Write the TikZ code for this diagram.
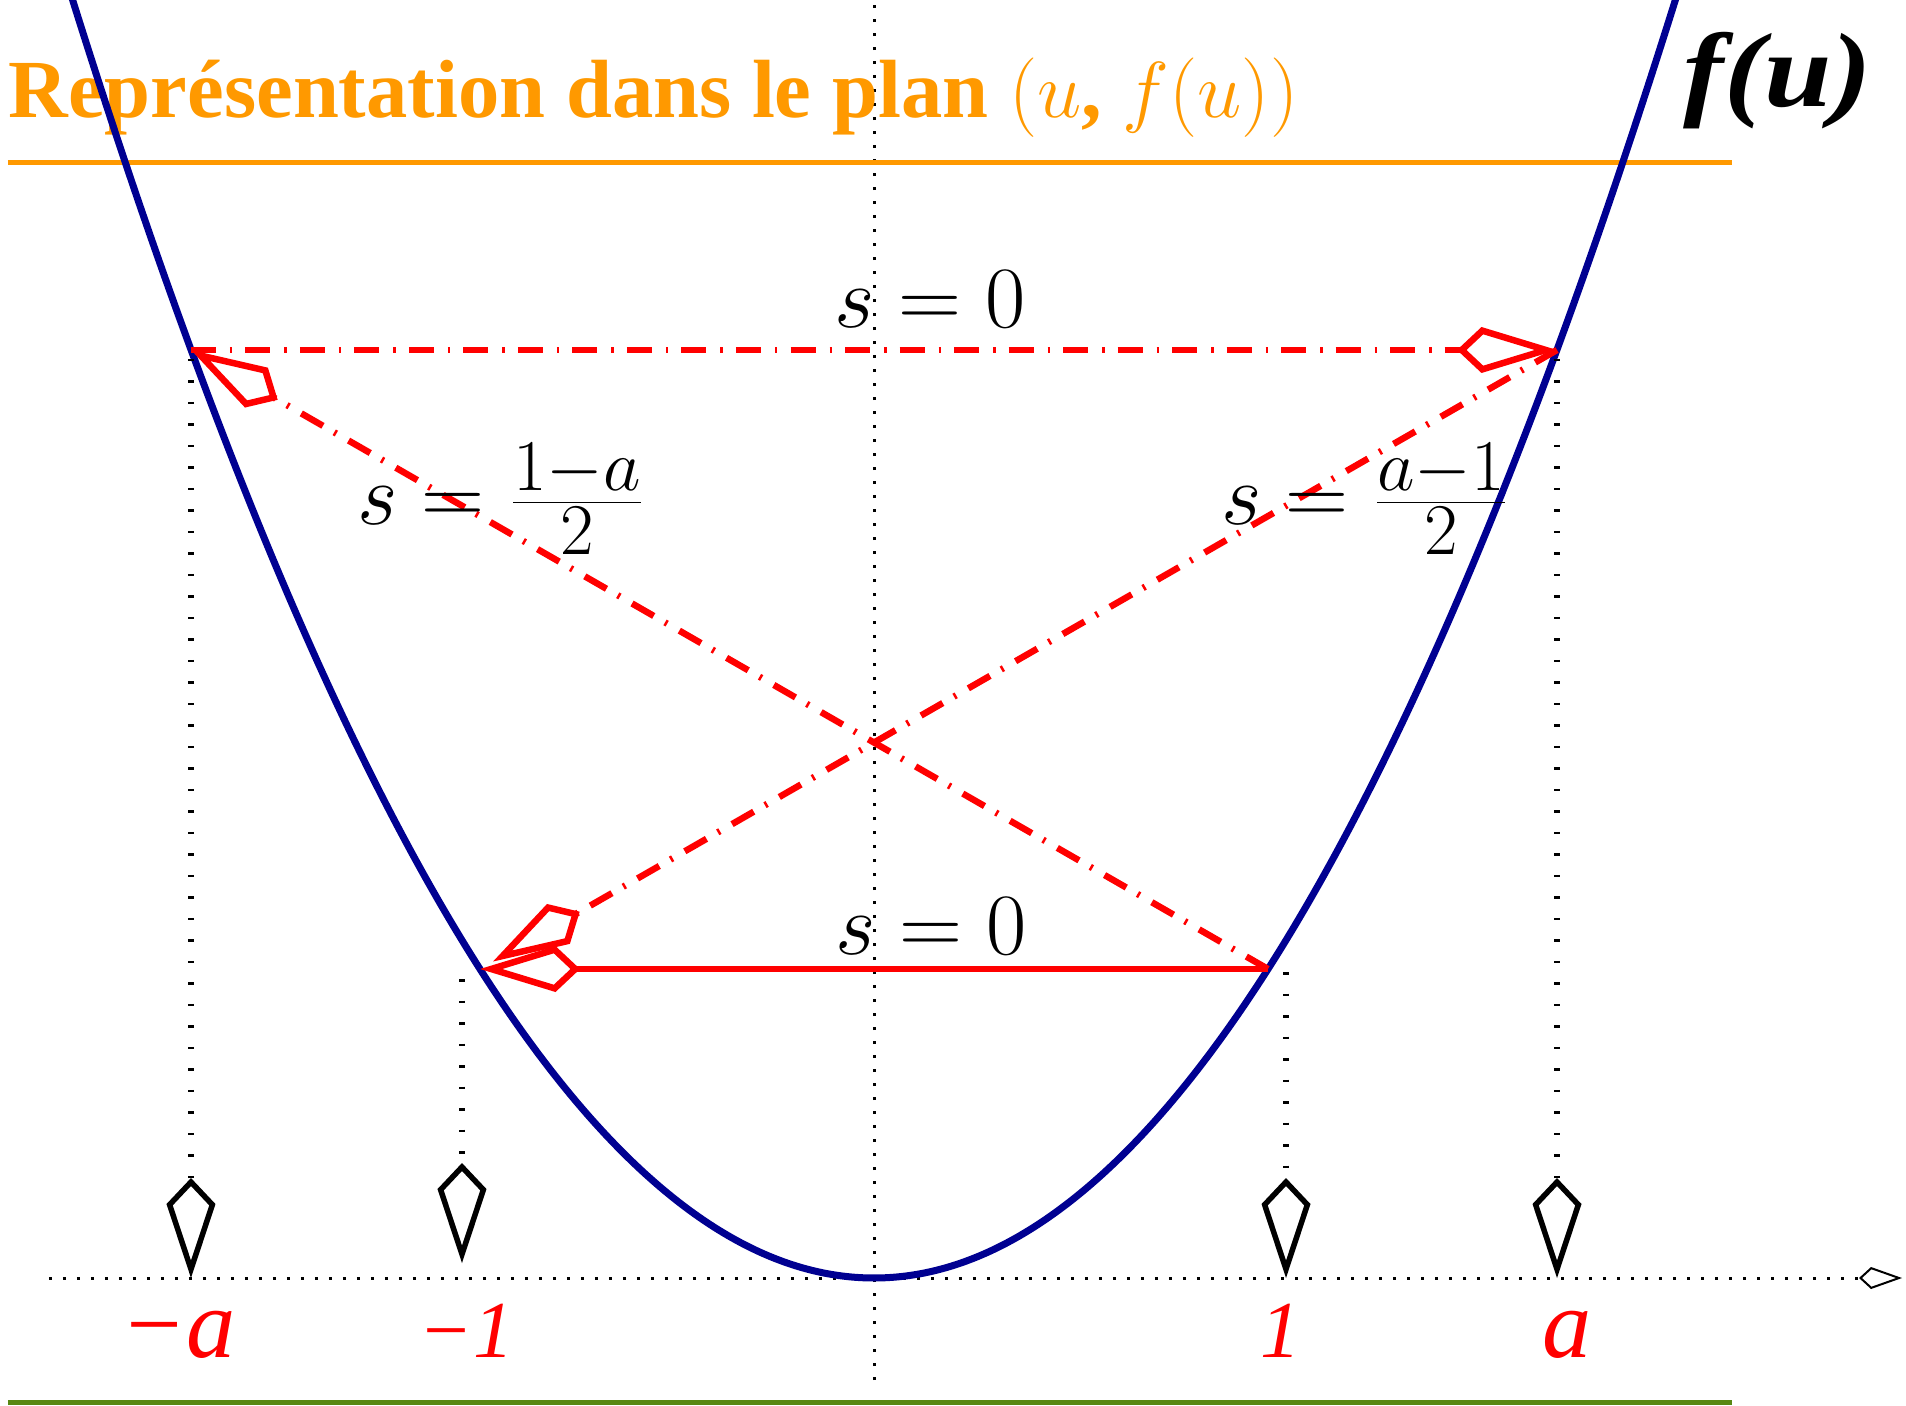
\documentclass[tikz,border=0pt]{standalone}
\usepackage[no-math]{fontspec}
\setmainfont{Liberation Serif}
\newfontface\fufont[FakeStretch=1.15]{Liberation Serif Bold Italic}
\usepackage{xcolor}
\usepackage{tikz}
\usetikzlibrary{arrows.meta,positioning,calc}
\definecolor{titleorange}{RGB}{255,153,0}
\definecolor{curveblue}{RGB}{0,0,145}
\definecolor{rulegreen}{RGB}{88,135,18}
\tikzset{
  axis/.style={line width=0.03cm, dash pattern=on 0.03cm off 0.11cm},
  guide/.style={line width=0.06cm, dash pattern=on 0.025cm off 0.19cm, -{Kite[open, length=1.0cm, width=0.49cm, inset=0.26cm, line width=0.055cm]}},
  chord/.style={red, line width=0.068cm, -{Kite[open, length=1.0cm, width=0.46cm, inset=0.245cm, line width=0.065cm]}},
  dashchord/.style={chord, line width=0.065cm, dash pattern=on 0.25cm off 0.14cm on 0.025cm off 0.13cm},
  slabel/.style={inner sep=0pt, font=\fontsize{28.5}{32}\selectfont},
  ticklabel/.style={inner sep=0pt, anchor=base, text=red, font=\itshape\fontsize{23}{26}\selectfont},
  bigtick/.style={ticklabel, font=\itshape\fontsize{28}{30}\selectfont}
}

\begin{document}
\begin{tikzpicture}
  \useasboundingbox (-8.74,-1.27) rectangle (10.32,12.78);
  \clip (-8.74,-1.27) rectangle (10.32,12.78);

  % points on the curve
  \coordinate (Pma) at (-6.83,9.28);
  \coordinate (Pa) at (6.83,9.28);
  \coordinate (Pm1) at (-3.94,3.09);
  \coordinate (P1) at (3.94,3.09);
  % axes
  \coordinate (Xl) at (-8.25,0);
  \coordinate (Xr) at (10.28,0);
  \coordinate (Yb) at (0,-1.02);
  \coordinate (Yt) at (0,12.9);
  \draw[axis, -{Kite[open, length=0.43cm, width=0.22cm, inset=0.12cm, line width=0.02cm]}] (Xl) -- (Xr);
  \draw[axis] (Yb) -- (Yt);

  % title and rules
  \node[anchor=base west, inner sep=0pt, text=titleorange, font=\bfseries\fontsize{23.5}{26}\selectfont] (title) at (-8.66,11.60) {Représentation dans le plan {\fontsize{21.5}{26}\selectfont\scalebox{1.09}{$(u$, $f(u))$}}};
  \node[anchor=base, inner sep=0pt, font=\fufont\fontsize{30}{32}\selectfont] (fu) at (9.04,11.71) {f(u)};
  \coordinate (Ol) at (-8.66,11.15);
  \coordinate (Or) at (8.58,11.15);
  \coordinate (Gl) at (-8.66,-1.245);
  \coordinate (Gr) at (8.58,-1.245);
  \draw[titleorange, line width=0.05cm] (Ol) -- (Or);
  \draw[rulegreen, line width=0.05cm] (Gl) -- (Gr);

  % the curve
  \draw[curveblue, line width=0.07cm] plot[domain=-8.2:8.2, samples=120, smooth] (\x,{0.199*\x*\x});

  % guides down to the axis
  \coordinate (Gma) at (-6.83,9.19);
  \coordinate (Tma) at (-6.83,0);
  \coordinate (Gm1) at (-4.12,2.99);
  \coordinate (Tm1) at (-4.12,0.15);
  \coordinate (G1) at (4.12,3.06);
  \coordinate (T1) at (4.12,0);
  \coordinate (Ga) at (6.83,9.19);
  \coordinate (Ta) at (6.83,0);
  \draw[guide] (Gma) -- (Tma);
  \draw[guide] (Gm1) -- (Tm1);
  \draw[guide] (G1) -- (T1);
  \draw[guide] (Ga) -- (Ta);

  % chords
  \draw[dashchord] (Pma) -- (Pa);
  \draw[dashchord] (P1) -- (Pma);
  \draw[dashchord, shorten >=0.15cm] (Pa) -- (Pm1);
  \draw[chord] (P1) -- (Pm1);

  % labels
  \node[slabel, anchor=base] (stop) at (0.56,9.50) {$s=0$};
  \node[slabel, anchor=base] (sbot) at (0.57,3.24) {$s=0$};
  \node[slabel] (sleft) at (-3.73,7.79) {$s=\frac{1-a}{2}$};
  \node[slabel] (sright) at (4.91,7.79) {$s=\frac{a-1}{2}$};
  \node[bigtick] (lma) at (-6.96,-0.79) {−a};
  \node[ticklabel] (lm1) at (-4.08,-0.79) {−1};
  \node[ticklabel] (l1) at (4.07,-0.79) {1};
  \node[bigtick] (la) at (6.93,-0.79) {a};
\end{tikzpicture}
\end{document}
